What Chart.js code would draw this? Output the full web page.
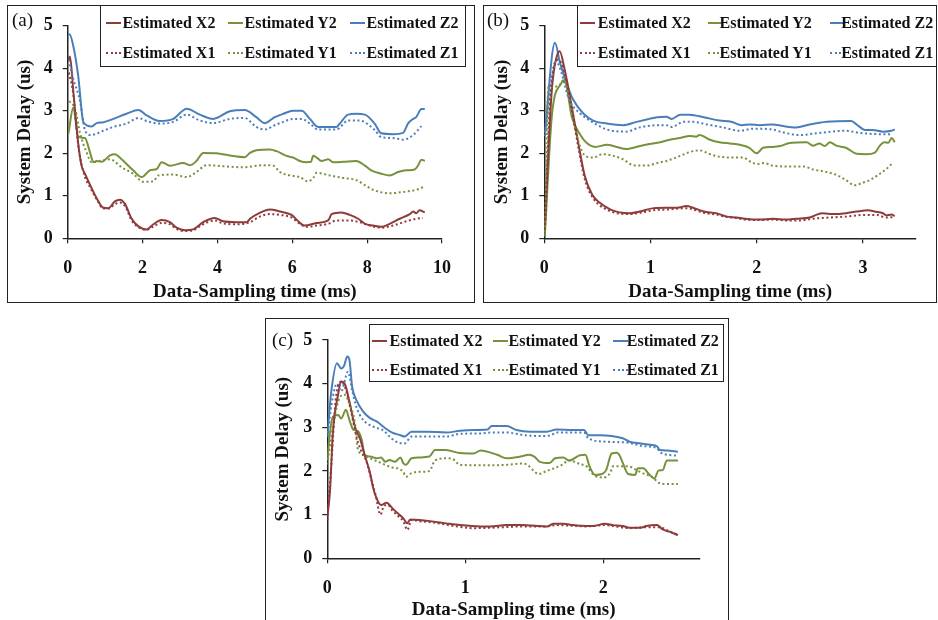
<!DOCTYPE html>
<html>
<head>
<meta charset="utf-8">
<script src="https://cdn.jsdelivr.net/npm/chart.js@4.4.1/dist/chart.umd.min.js"></script>
<style>
  html, body { margin: 0; padding: 0; background: #fff; width: 938px; height: 620px; overflow: hidden; }
  body { position: relative; font-family: 'Liberation Serif', 'Times New Roman', serif; }
  canvas { position: absolute; }
  .frame { position: absolute; box-sizing: border-box; border: 1.5px solid #222; pointer-events: none; }
  .legend { position: absolute; box-sizing: border-box; border: 1.5px solid #222; background: #fff; }
  .item { position: absolute; height: 20px; line-height: 20px; font-size: 16px; font-weight: bold; color: #111; white-space: nowrap; }
  .swatch { position: absolute; width: 15px; height: 0; }
  .tag { position: absolute; font-size: 19px; color: #111; line-height: 22px; }
</style>
</head>
<body>

<canvas id="chartA" width="468" height="298" style="left:7px;top:5px"></canvas>
<canvas id="chartB" width="454" height="298" style="left:483px;top:5px"></canvas>
<canvas id="chartC" width="464" height="306" style="left:265px;top:318px"></canvas>

<div class="frame" style="left:7px;top:5px;width:468px;height:298px"></div>
<div class="frame" style="left:483px;top:5px;width:454px;height:298px"></div>
<div class="frame" style="left:265px;top:318px;width:464px;height:310px"></div>

<div class="tag" style="left:12px;top:9px">(a)</div>
<div class="tag" style="left:487px;top:9px">(b)</div>
<div class="tag" style="left:272px;top:329px">(c)</div>

<div id="legA" class="legend" style="left:100px;top:5px;width:366px;height:62px"></div>
<div id="legB" class="legend" style="left:577px;top:5px;width:360px;height:62px"></div>
<div id="legC" class="legend" style="left:369px;top:324px;width:355px;height:58px"></div>

<script>
// ---------- colours ----------
const colX = '#8E3B3B';
const colY = '#76923C';
const colZ = '#4A7EBB';

// ---------- panel (a): 0-10 ms ----------
const aX2t = [0.02,0.06,0.15,0.28,0.37,0.46,0.6,0.77,0.95,1.09,1.26,1.4,1.53,1.71,1.89,2.11,2.29,2.51,2.73,2.91,3.13,3.35,3.62,3.93,4.15,4.51,4.78,4.87,5.13,5.4,5.67,5.98,6.16,6.33,6.65,6.96,7.05,7.31,7.54,7.76,7.94,8.16,8.38,8.6,8.87,9.14,9.23,9.31,9.4,9.54];
const aX2  = [4.2,4.28,3.46,2.24,1.71,1.52,1.25,0.95,0.72,0.71,0.87,0.91,0.81,0.46,0.28,0.21,0.33,0.43,0.38,0.25,0.19,0.21,0.38,0.48,0.40,0.38,0.38,0.46,0.60,0.68,0.63,0.55,0.40,0.30,0.36,0.42,0.57,0.61,0.55,0.46,0.34,0.30,0.27,0.34,0.46,0.57,0.63,0.59,0.66,0.61];
const aX1t = [0.03,0.15,0.28,0.46,0.6,0.77,0.95,1.09,1.26,1.4,1.53,1.71,1.89,2.11,2.29,2.51,2.73,2.91,3.13,3.35,3.62,3.93,4.15,4.51,4.87,5.13,5.4,5.67,5.98,6.2,6.38,6.65,6.96,7.18,7.54,7.8,8.07,8.38,8.69,9.05,9.31,9.49];
const aX1  = [3.9,3.39,2.2,1.45,1.2,0.92,0.70,0.70,0.80,0.84,0.76,0.42,0.26,0.20,0.28,0.36,0.33,0.22,0.17,0.19,0.33,0.42,0.35,0.33,0.38,0.51,0.57,0.55,0.49,0.34,0.27,0.30,0.34,0.42,0.42,0.38,0.30,0.25,0.30,0.40,0.46,0.48];
const aY2t = [0.02,0.15,0.28,0.46,0.6,0.69,0.77,0.91,1.13,1.26,1.44,1.75,1.98,2.2,2.38,2.51,2.73,3.09,3.27,3.44,3.62,3.98,4.33,4.73,4.87,5.04,5.4,5.58,5.85,6.02,6.2,6.38,6.5,6.56,6.65,6.78,6.96,7.09,7.36,7.71,7.94,8.11,8.38,8.6,8.83,9.05,9.27,9.36,9.45,9.54];
const aY2  = [2.47,3.08,2.39,2.36,2.01,1.79,1.82,1.80,1.95,1.98,1.86,1.60,1.44,1.60,1.63,1.79,1.71,1.77,1.72,1.82,2.01,2.0,1.95,1.91,2.01,2.07,2.09,2.05,1.94,1.90,1.82,1.79,1.80,1.94,1.90,1.82,1.86,1.79,1.80,1.82,1.71,1.60,1.52,1.48,1.56,1.60,1.62,1.71,1.85,1.82];
const aY1t = [0.04,0.2,0.33,0.51,0.64,0.86,1.13,1.44,1.75,2.02,2.29,2.42,2.82,3.18,3.44,3.71,4.24,4.69,5.22,5.49,5.67,5.93,6.2,6.42,6.56,6.65,7.0,7.36,7.71,7.94,8.16,8.6,9.05,9.31,9.49];
const aY1  = [3.23,3.04,2.47,2.01,1.79,1.82,1.86,1.67,1.52,1.33,1.34,1.48,1.50,1.44,1.56,1.72,1.69,1.67,1.72,1.71,1.56,1.48,1.44,1.34,1.42,1.54,1.48,1.42,1.37,1.25,1.14,1.06,1.10,1.14,1.20];
const aZ2t = [0.02,0.05,0.15,0.28,0.42,0.64,0.77,0.95,1.22,1.57,1.89,2.11,2.46,2.82,3.18,3.53,3.89,4.33,4.73,5.04,5.27,5.53,5.76,6.02,6.25,6.47,6.69,7.18,7.27,7.49,7.71,7.94,8.2,8.38,8.69,8.96,9.09,9.23,9.31,9.45,9.54];
const aZ2  = [4.78,4.8,4.52,3.83,2.73,2.63,2.71,2.73,2.81,2.93,3.02,2.89,2.76,2.81,3.05,2.91,2.81,2.99,3.02,2.85,2.71,2.85,2.93,3.0,3.0,2.81,2.62,2.62,2.70,2.91,2.93,2.91,2.70,2.47,2.45,2.48,2.70,2.81,2.85,3.04,3.04];
const aZ1t = [0.03,0.15,0.33,0.46,0.62,0.95,1.22,1.57,1.89,2.11,2.46,2.82,3.18,3.53,3.89,4.33,4.73,5.04,5.27,5.53,5.76,6.02,6.25,6.47,6.69,7.18,7.49,7.8,8.2,8.38,8.69,8.96,9.23,9.45];
const aZ1  = [4.2,3.75,3.23,2.55,2.43,2.53,2.62,2.70,2.83,2.76,2.70,2.74,2.91,2.77,2.71,2.81,2.83,2.62,2.56,2.66,2.74,2.81,2.81,2.70,2.56,2.56,2.77,2.77,2.55,2.38,2.36,2.32,2.43,2.64];

// ---------- panel (b): 0-3.5 ms ----------
const bX2t = [0.005,0.07,0.13,0.145,0.19,0.26,0.32,0.38,0.45,0.52,0.62,0.71,0.81,0.9,1.03,1.15,1.25,1.34,1.4,1.5,1.62,1.72,1.81,1.89,2.03,2.15,2.28,2.37,2.5,2.56,2.62,2.72,2.84,2.94,3.05,3.11,3.19,3.22,3.27,3.3];
const bX2  = [0.3,3.46,4.37,4.4,3.99,3.08,2.24,1.48,1.03,0.84,0.68,0.61,0.59,0.63,0.71,0.72,0.72,0.76,0.72,0.63,0.59,0.51,0.49,0.46,0.44,0.46,0.44,0.46,0.49,0.55,0.59,0.57,0.59,0.63,0.66,0.63,0.59,0.54,0.56,0.52];
const bX1t = [0.005,0.05,0.1,0.13,0.19,0.26,0.32,0.38,0.45,0.52,0.62,0.71,0.81,0.9,1.03,1.18,1.34,1.5,1.62,1.72,1.81,1.89,2.03,2.15,2.28,2.4,2.53,2.69,2.84,3.0,3.13,3.22,3.3];
const bX1  = [0.2,3.0,4.14,4.2,3.9,3.0,2.15,1.4,0.98,0.78,0.64,0.58,0.57,0.60,0.66,0.68,0.71,0.60,0.56,0.50,0.48,0.44,0.43,0.44,0.42,0.42,0.46,0.49,0.51,0.55,0.55,0.49,0.50];
const bY2t = [0.005,0.07,0.16,0.19,0.26,0.34,0.4,0.48,0.59,0.68,0.77,0.9,0.99,1.09,1.18,1.28,1.37,1.43,1.46,1.56,1.65,1.75,1.84,1.93,2.0,2.06,2.15,2.22,2.31,2.47,2.53,2.59,2.64,2.69,2.75,2.84,2.94,3.03,3.11,3.16,3.2,3.24,3.27,3.3];
const bY2  = [0.05,2.85,3.65,3.72,2.85,2.43,2.24,2.15,2.2,2.15,2.1,2.17,2.22,2.26,2.32,2.36,2.41,2.39,2.43,2.32,2.26,2.23,2.2,2.13,2.0,2.13,2.15,2.17,2.24,2.26,2.18,2.23,2.17,2.26,2.18,2.13,1.99,1.98,2.01,2.18,2.26,2.25,2.36,2.26];
const bY1t = [0.005,0.04,0.13,0.18,0.3,0.37,0.46,0.55,0.65,0.74,0.84,0.96,1.09,1.15,1.28,1.37,1.46,1.56,1.65,1.78,1.87,1.95,2.0,2.07,2.15,2.31,2.44,2.53,2.66,2.77,2.84,2.92,2.98,3.08,3.16,3.22,3.28];
const bY1  = [0.05,3.57,3.57,3.72,2.47,1.98,1.9,1.98,1.94,1.86,1.72,1.71,1.79,1.82,1.94,2.03,2.07,1.98,1.92,1.9,1.9,1.79,1.75,1.77,1.71,1.69,1.69,1.62,1.56,1.47,1.37,1.25,1.29,1.39,1.52,1.63,1.77];
const bZ2t = [0.005,0.1,0.147,0.194,0.27,0.37,0.46,0.59,0.74,0.87,0.99,1.06,1.15,1.2,1.28,1.37,1.5,1.65,1.76,1.86,1.93,2.03,2.15,2.25,2.37,2.5,2.66,2.89,2.95,3.02,3.09,3.19,3.27,3.3];
const bZ2  = [2.47,4.6,4.14,3.76,3.27,2.93,2.77,2.70,2.66,2.74,2.81,2.85,2.86,2.81,2.91,2.91,2.85,2.77,2.74,2.66,2.68,2.66,2.68,2.64,2.61,2.68,2.74,2.76,2.66,2.55,2.55,2.51,2.53,2.56];
const bZ1t = [0.005,0.11,0.24,0.34,0.43,0.59,0.77,0.9,1.06,1.15,1.2,1.31,1.4,1.53,1.68,1.84,1.97,2.15,2.22,2.4,2.59,2.84,2.97,3.16,3.28];
const bZ1  = [2.4,4.15,3.23,2.93,2.77,2.56,2.51,2.61,2.66,2.66,2.62,2.74,2.74,2.68,2.61,2.53,2.58,2.56,2.51,2.43,2.48,2.53,2.48,2.45,2.45];

// ---------- panel (c): 0-2.7 ms ----------
const cX2t = [0.0,0.02,0.04,0.08,0.1,0.13,0.16,0.2,0.24,0.27,0.31,0.33,0.36,0.39,0.43,0.47,0.51,0.55,0.58,0.6,0.67,0.77,0.86,0.96,1.11,1.18,1.3,1.4,1.54,1.59,1.64,1.71,1.78,1.88,1.93,2.01,2.07,2.14,2.19,2.27,2.31,2.39,2.43,2.48,2.54];
const cX2  = [0.95,1.56,2.86,3.78,4.05,3.97,3.59,3.02,2.71,2.37,1.95,1.64,1.35,1.22,1.27,1.15,1.03,0.92,0.8,0.89,0.88,0.84,0.80,0.76,0.73,0.73,0.76,0.76,0.74,0.73,0.79,0.79,0.76,0.74,0.74,0.79,0.76,0.74,0.70,0.70,0.74,0.76,0.66,0.61,0.53];
const cX1t = [0.0,0.03,0.06,0.1,0.13,0.17,0.21,0.24,0.28,0.32,0.35,0.385,0.41,0.44,0.47,0.51,0.55,0.58,0.61,0.67,0.77,0.86,0.96,1.06,1.18,1.43,1.59,1.66,1.88,2.01,2.19,2.31,2.41,2.48,2.54];
const cX1  = [0.88,2.2,3.6,4.05,3.9,3.4,2.8,2.5,2.25,1.8,1.45,1.0,1.2,1.22,1.1,0.98,0.85,0.65,0.88,0.85,0.82,0.77,0.72,0.69,0.70,0.73,0.73,0.76,0.73,0.76,0.69,0.71,0.71,0.61,0.54];
const cY2t = [0.0,0.02,0.04,0.08,0.1,0.135,0.16,0.19,0.22,0.25,0.27,0.31,0.36,0.39,0.42,0.45,0.49,0.53,0.55,0.57,0.61,0.67,0.74,0.78,0.86,0.96,1.06,1.11,1.23,1.3,1.4,1.46,1.5,1.54,1.61,1.65,1.71,1.75,1.83,1.87,1.9,1.94,1.99,2.02,2.06,2.1,2.12,2.14,2.18,2.23,2.25,2.29,2.33,2.37,2.4,2.43,2.46,2.54];
const cY2  = [2.24,2.9,3.24,3.28,3.2,3.4,3.17,2.94,2.92,2.71,2.37,2.33,2.29,2.31,2.21,2.25,2.21,2.31,2.18,2.14,2.29,2.31,2.33,2.48,2.48,2.41,2.4,2.47,2.37,2.29,2.33,2.37,2.33,2.21,2.18,2.29,2.31,2.24,2.36,2.37,2.1,1.91,1.93,2.02,2.4,2.42,2.34,2.19,1.93,1.91,2.06,2.06,1.93,1.83,2.01,2.02,2.24,2.24];
const cY1t = [0.0,0.04,0.08,0.12,0.16,0.2,0.22,0.27,0.31,0.37,0.42,0.47,0.51,0.55,0.57,0.61,0.67,0.74,0.78,0.86,0.91,0.96,1.11,1.3,1.4,1.45,1.49,1.53,1.59,1.64,1.7,1.75,1.83,1.88,1.93,2.0,2.05,2.07,2.14,2.19,2.24,2.3,2.36,2.4,2.46,2.54];
const cY1  = [2.15,3.0,3.6,3.75,3.55,3.1,2.52,2.35,2.29,2.21,2.14,2.08,2.06,1.98,1.87,1.95,1.98,2.0,2.24,2.29,2.27,2.14,2.13,2.14,2.17,2.14,2.02,1.93,2.0,2.06,2.14,2.24,2.16,2.1,1.91,1.85,1.96,2.11,2.11,2.1,2.02,1.93,1.85,1.73,1.7,1.7];
const cZ2t = [0.0,0.03,0.07,0.1,0.12,0.145,0.16,0.18,0.21,0.26,0.31,0.36,0.42,0.47,0.53,0.56,0.61,0.72,0.86,0.96,1.06,1.16,1.19,1.3,1.37,1.47,1.59,1.66,1.78,1.86,1.89,1.98,2.06,2.14,2.19,2.27,2.34,2.39,2.41,2.46,2.54];
const cZ2  = [2.82,3.85,4.47,4.35,4.4,4.62,4.55,3.93,3.63,3.36,3.21,3.13,2.98,2.88,2.82,2.79,2.9,2.9,2.88,2.92,2.94,2.95,3.03,3.03,2.94,2.9,2.9,2.95,2.94,2.94,2.82,2.82,2.8,2.75,2.67,2.63,2.6,2.56,2.48,2.47,2.44];
const cZ1t = [0.0,0.03,0.07,0.1,0.15,0.18,0.21,0.26,0.33,0.41,0.45,0.5,0.56,0.61,0.72,0.86,0.96,1.11,1.18,1.3,1.43,1.55,1.62,1.66,1.86,1.89,2.02,2.17,2.22,2.29,2.39,2.41,2.53];
const cZ1  = [2.78,3.51,4.0,3.82,4.27,3.85,3.47,3.17,3.02,2.92,2.79,2.67,2.63,2.79,2.79,2.79,2.85,2.86,2.88,2.88,2.82,2.8,2.82,2.88,2.88,2.75,2.67,2.65,2.62,2.57,2.52,2.43,2.35];

// ---------- shared text ----------
const seriesNames = ['Estimated X2', 'Estimated Y2', 'Estimated Z2', 'Estimated X1', 'Estimated Y1', 'Estimated Z1'];
const xTitle = 'Data-Sampling time (ms)';
const yTitle = 'System Delay (us)';

Chart.defaults.font.family = "'Liberation Serif', 'Times New Roman', serif";
Chart.defaults.color = '#111';

function pts(t, v) { return t.map((x, i) => ({ x: x, y: v[i] })); }

function line(label, t, v, color, dotted) {
  return {
    label: label,
    data: pts(t, v),
    borderColor: color,
    backgroundColor: color,
    borderWidth: 2,
    borderDash: dotted ? [2, 2.6] : [],
    pointRadius: 0,
    fill: false,
    cubicInterpolationMode: 'monotone'
  };
}

function makeChart(id, series, xMax, xStep, geo) {
  const axisLine = { color: '#222', width: 1.5 };
  const gridOpts = { drawOnChartArea: false, drawTicks: true, tickLength: 5, color: '#222', lineWidth: 1.2 };
  return new Chart(document.getElementById(id), {
    type: 'line',
    data: {
      datasets: [
        line(seriesNames[3], series.x1t, series.x1, colX, true),
        line(seriesNames[4], series.y1t, series.y1, colY, true),
        line(seriesNames[5], series.z1t, series.z1, colZ, true),
        line(seriesNames[0], series.x2t, series.x2, colX, false),
        line(seriesNames[1], series.y2t, series.y2, colY, false),
        line(seriesNames[2], series.z2t, series.z2, colZ, false)
      ]
    },
    options: {
      responsive: false,
      maintainAspectRatio: false,
      animation: false,
      layout: { padding: { left: geo.padL, right: geo.padR, top: geo.padT, bottom: 0 } },
      plugins: { legend: { display: false }, tooltip: { enabled: false } },
      scales: {
        x: {
          type: 'linear',
          min: 0, max: xMax,
          grid: gridOpts,
          border: axisLine,
          ticks: { stepSize: xStep, includeBounds: false, padding: 14, font: { size: 18, weight: 'bold' }, color: '#111' },
          title: { display: true, text: xTitle, font: { size: 19, weight: 'bold' }, color: '#111', padding: { top: 0, bottom: geo.titleB } },
          afterFit: function (s) { s.height = geo.xH; }
        },
        y: {
          min: 0, max: 5,
          grid: gridOpts,
          border: axisLine,
          ticks: { stepSize: 1, padding: 10, font: { size: 18, weight: 'bold' }, color: '#111' },
          title: { display: true, text: yTitle, font: { size: 19, weight: 'bold' }, color: '#111', padding: { top: 4, bottom: 4 } },
          afterFit: function (s) { s.width = geo.yW; }
        }
      }
    }
  });
}

makeChart('chartA', { x2t: aX2t, x2: aX2, x1t: aX1t, x1: aX1, y2t: aY2t, y2: aY2, y1t: aY1t, y1: aY1, z2t: aZ2t, z2: aZ2, z1t: aZ1t, z1: aZ1 },
  10, 2, { padL: 3, padR: 33, padT: 14, yW: 57.7, xH: 64.7, titleB: 0 });
makeChart('chartB', { x2t: bX2t, x2: bX2, x1t: bX1t, x1: bX1, y2t: bY2t, y2: bY2, y1t: bY1t, y1: bY1, z2t: bZ2t, z2: bZ2, z1t: bZ1t, z1: bZ1 },
  3.5, 1, { padL: 3.3, padR: 21, padT: 14, yW: 58, xH: 64.7, titleB: 0 });
makeChart('chartC', { x2t: cX2t, x2: cX2, x1t: cX1t, x1: cX1, y2t: cY2t, y2: cY2, y1t: cY1t, y1: cY1, z2t: cZ2t, z2: cZ2, z1t: cZ1t, z1: cZ1 },
  2.7, 1, { padL: 3, padR: 29, padT: 22, yW: 59.3, xH: 65.7, titleB: 2.6 });

// ---------- legends (two rows of three entries) ----------
function buildLegend(id, cols, lines, rows) {
  const box = document.getElementById(id);
  const colors = [colX, colY, colZ];
  seriesNames.forEach(function (name, i) {
    const r = Math.floor(i / 3), c = i % 3;
    const sw = document.createElement('div');
    sw.className = 'swatch';
    sw.style.left = lines[c] + 'px';
    sw.style.top = (rows[r] - 1) + 'px';
    sw.style.borderTop = '2px ' + (r === 0 ? 'solid ' : 'dotted ') + colors[c];
    box.appendChild(sw);
    const tx = document.createElement('div');
    tx.className = 'item';
    tx.style.left = cols[c] + 'px';
    tx.style.top = (rows[r] - 10) + 'px';
    tx.textContent = name;
    box.appendChild(tx);
  });
}
buildLegend('legA', [21.5, 143.5, 265.5], [5, 127, 249], [16.5, 46.5]);
buildLegend('legB', [19.8, 141.5, 263.2], [2, 130, 252], [16.8, 46.8]);
buildLegend('legC', [19.5, 138.5, 256.8], [1.5, 123, 243], [15.5, 44.5]);
</script>
</body>
</html>
